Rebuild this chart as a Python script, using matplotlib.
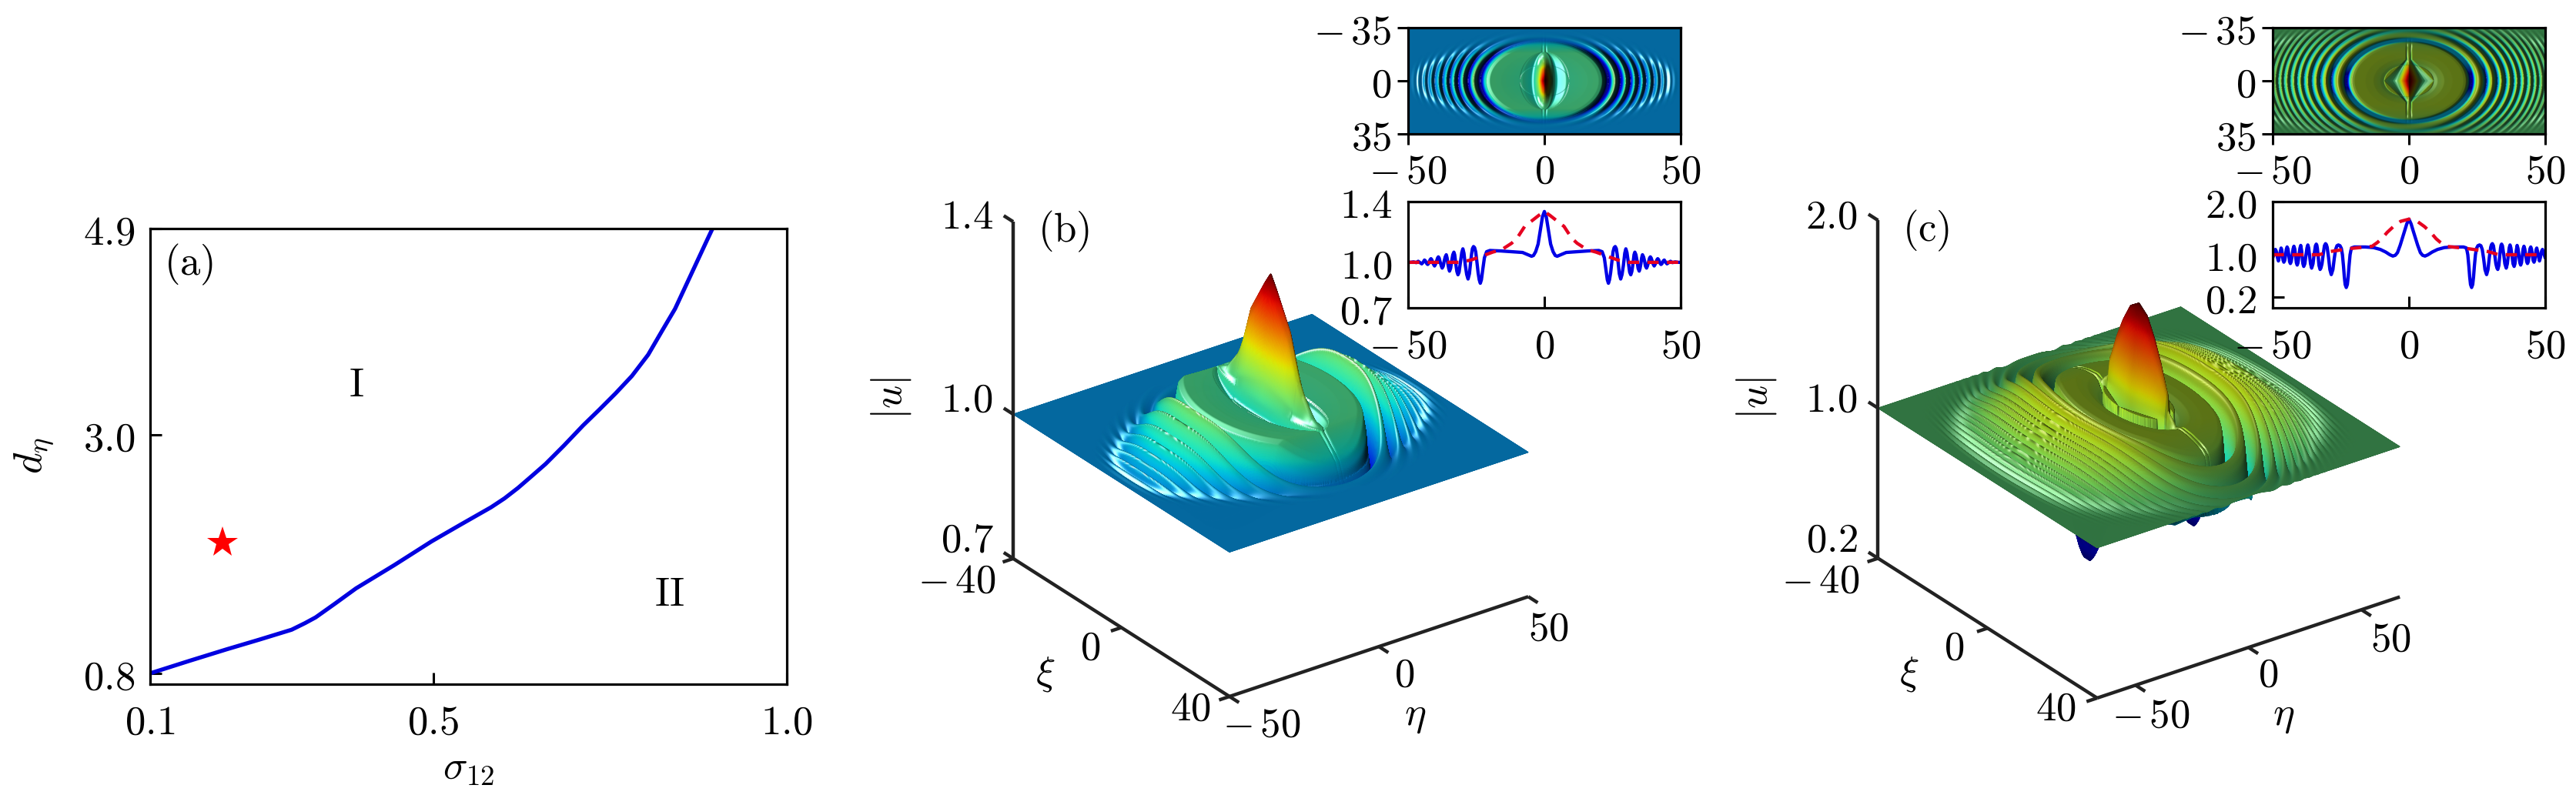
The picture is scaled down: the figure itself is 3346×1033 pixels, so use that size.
import numpy as np
import matplotlib
matplotlib.use('Agg')
import matplotlib.pyplot as plt
from mpl_toolkits.mplot3d import proj3d

plt.rcParams['mathtext.fontset'] = 'cm'
plt.rcParams['font.family'] = ['DejaVu Sans']

W, H = 3346, 1033
FS = 38

# ---- panel (a) ----
sigma12 = [.100, .155, .208, .254, .300, .319, .334, .361, .391, .445, .498, .540, .582, .601, .620, .639, .659, .685, .712, .735, .758, .781, .804, .823, .842, .857, .872, .887, .900]
d_eta = [.800, .914, 1.021, 1.110, 1.202, 1.263, 1.316, 1.441, 1.583, 1.797, 2.017, 2.175, 2.331, 2.413, 2.509, 2.616, 2.730, 2.900, 3.085, 3.231, 3.381, 3.541, 3.737, 3.950, 4.160, 4.370, 4.580, 4.790, 4.970]
star_sigma, star_d = 0.202, 2.003

# ---- panel (b): profile along eta at xi=0 (solid) and along xi at eta=0 (dashed) ----
b_profile = [(0, 1.335), (.7, 1.30), (1.5, 1.21), (2.3, 1.12), (3.2, 1.07), (4.0, 1.045), (4.7, 1.04), (6, 1.05), (8, 1.065),
             (12, 1.07), (16, 1.075), (20, 1.078), (21.2, 1.07), (22, 1.03), (22.7, .94), (23.1, .885), (23.5, .862), (23.9, .885),
             (24.3, .93), (24.8, 1.01), (25.2, 1.07), (25.6, 1.097), (26, 1.104), (26.4, 1.09), (26.7, 1.055), (27, 1.01), (27.5, .925),
             (28, .89), (28.5, .92), (29, .98), (29.5, 1.06), (29.9, 1.089), (30.3, 1.065), (30.8, 1.0), (31.3, .935), (31.7, .918),
             (32.1, .94), (32.5, .99), (32.9, 1.05), (33.2, 1.067), (33.6, 1.05), (34, 1.01), (34.4, .96), (34.8, .942), (35.1, .96),
             (35.4, .99), (35.7, 1.03), (36, 1.05), (36.4, 1.035), (36.8, 1.005), (37.1, .975), (37.5, .962), (37.8, .975), (38.2, 1.0),
             (38.6, 1.028), (38.9, 1.036), (39.2, 1.028), (39.6, 1.005), (40, .985), (40.3, .976), (40.6, .985), (41, 1.0), (41.3, 1.017),
             (41.6, 1.024), (41.9, 1.018), (42.2, 1.005), (42.5, .992), (42.8, .986), (43.1, .99), (43.4, 1.0), (43.7, 1.011), (44, 1.015),
             (44.5, 1.0), (45, .99), (45.7, .999), (46.3, 1.007), (47, .998), (48, 1.003), (49, 1.0), (50, 1.0)]
b_xi = [0, 2, 4.5, 7.2, 10, 12, 15.6, 19, 23, 27, 31, 40, 50]
b_red = [1.335, 1.31, 1.275, 1.237, 1.16, 1.126, 1.084, 1.067, 1.04, 1.015, 1.0, 1.0, 1.0]

# ---- panel (c) ----
c_profile = [(0, 1.67), (.8, 1.58), (1.5, 1.46), (2.3, 1.33), (3.2, 1.18), (4.2, 1.04), (5.0, .99), (5.9, .975), (7, 1.0), (8.5, 1.05),
             (10.5, 1.10), (13, 1.135), (16, 1.146), (20, 1.146), (21, 1.13), (21.3, 1.08), (21.6, 1.0), (22, .78), (22.3, .58), (22.6, .44),
             (23, .383), (23.4, .44), (23.7, .58), (24, .78), (24.4, 1.0), (24.8, 1.12), (25.3, 1.17), (25.9, 1.184), (26.4, 1.17), (26.9, 1.1),
             (27.4, .93), (27.9, .72), (28.5, .626), (29, .72), (29.5, .95), (30, 1.14), (30.3, 1.19), (30.6, 1.209), (31, 1.17), (31.4, 1.03),
             (31.9, .83), (32.3, .75), (32.6, .723), (33, .8), (33.3, .97), (33.6, 1.12), (33.8, 1.18), (34, 1.2), (34.3, 1.17), (34.8, 1.0),
             (35.2, .83), (35.7, .748), (36.1, .83), (36.5, 1.0), (36.8, 1.13), (37.1, 1.184), (37.4, 1.13), (37.9, .95), (38.2, .83), (38.6, .78),
             (38.9, .83), (39.2, .98), (39.4, 1.08), (39.7, 1.175), (40, 1.12), (40.4, .97), (40.7, .85), (41, .806), (41.3, .85), (41.6, .98),
             (41.9, 1.11), (42.2, 1.16), (42.5, 1.11), (42.9, .97), (43.2, .87), (43.5, .835), (43.8, .87), (44.1, 1.0), (44.4, 1.11), (44.7, 1.146),
             (45, 1.1), (45.3, .98), (45.6, .89), (45.9, .86), (46.2, .9), (46.4, 1.0), (46.7, 1.1), (46.9, 1.126), (47.2, 1.06), (47.5, .97),
             (47.9, .883), (48.2, .94), (48.4, 1.0), (48.7, 1.07), (49, 1.1), (49.5, 1.02), (50, .94), (51, 1.08), (52, .92), (53, 1.07), (54, .94),
             (55, 1.05), (56, .96), (57, 1.04), (58, .97), (59, 1.03), (60, .98), (61, 1.02), (62, .99), (63, 1.01), (64, 1.0), (67, 1.0)]
c_xi = [0, 3, 5.7, 8, 10, 11.6, 13.5, 17, 21, 25, 29, 33, 40, 50]
c_red = [1.67, 1.63, 1.53, 1.42, 1.30, 1.23, 1.16, 1.14, 1.12, 1.09, 1.06, 1.0, 1.0, 1.0]

ticks_eta = [-50, 0, 50]
ticks_xi = [-40, 0, 40]
ticks_map = [-35, 0, 35]

b_eta, b_blue = zip(*b_profile)
c_eta, c_blue = zip(*c_profile)


def mirror(x, y):
    x, y = np.asarray(x, float), np.asarray(y, float)
    return np.r_[-x[::-1], x[1:]], np.r_[y[::-1], y[1:]]


def build_field(eta_t, blue_t, xi_t, red_t, elim, a, s0, cut, plateau, w0, w1, pw, lens, floor, n_eta, n_xi):
    eta = np.linspace(-elim, elim, n_eta)
    xi = np.linspace(-40, 40, n_xi)
    E, X = np.meshgrid(eta, xi)
    sg = np.arange(0, 90, .02)
    Pf = np.interp(sg, eta_t, blue_t, right=1.0)
    ker = np.ones(13) / 13
    Pf = np.convolve(np.r_[np.full(6, Pf[0]), Pf, np.full(6, 1.0)], ker, 'valid')
    s = np.sqrt(E**2 + (a * X)**2)
    base = np.where(s < cut, plateau, np.interp(s, sg, Pf))
    red = np.interp(np.abs(X), xi_t, red_t)
    hf = np.clip((red - 1) / (plateau - 1), 0, 1)
    wd = np.maximum(w0 + (s - 24) * (w1 - w0) / 24, 4)
    env = np.where(s < s0, hf, np.exp(-(np.abs(X) / wd)**pw))
    u = 1 + (base - 1) * env
    fl = floor[0] + (floor[1] - floor[0]) * (1 - np.exp(-(X / floor[2])**2))
    u = np.maximum(u, fl)
    g = np.clip((red - plateau) / (red_t[0] - plateau), 0, 1)
    g2 = np.exp(-(X / 19)**4)
    wx = np.maximum(lens(np.abs(X)), .12)
    tt = np.interp(np.abs(E) / wx, sg, Pf) - plateau
    tt = np.where(np.abs(E) / wx < cut, tt, 0)
    u = u + np.where(tt > 0, tt * g, tt * g2)
    return eta, xi, E, X, u


def shade(u, eta, xi, k, ka, kd, ks, Lv):
    umin, umax = u.min(), u.max()
    t = np.clip((u - umin) / (umax - umin), 0, 1)
    rgb = matplotlib.colormaps['jet'](t)[..., :3]
    gy, gx = np.gradient(u, xi, eta)
    nx, ny, nz = -k * gx, -k * gy, np.ones_like(u)
    nn = np.sqrt(nx**2 + ny**2 + nz**2)
    nx, ny, nz = nx / nn, ny / nn, nz / nn
    Hv = np.array([-.2, 0, .98])
    diff = np.clip(nx * Lv[0] + nz * Lv[1], 0, 1)
    spec = np.clip(nx * Hv[0] + ny * Hv[1] + nz * Hv[2], 0, 1)**200
    spec = spec * np.clip((.75 - t) / .15, 0, 1)
    f = np.maximum(ka + kd * diff, .75 * np.clip((.12 - t) / .06, 0, 1))
    out = rgb * f[..., None] + ks * spec[..., None]
    return np.clip(out, 0, 1)


fig = plt.figure(figsize=(W / 100, H / 100), dpi=100)


def box(x0, y0, x1, y1):
    return [x0 / W, 1 - y1 / H, (x1 - x0) / W, (y1 - y0) / H]


def T(x, y, s, **kw):
    fig.text(x / W, 1 - y / H, s, ha=kw.pop('ha', 'center'), va='center', fontsize=kw.pop('fontsize', FS), zorder=20, **kw)


def m(v):
    return r'$-\,%d$' % -v if v < 0 else r'$%d$' % v


# ---- panel (a) ----
ax = fig.add_axes(box(195, 297, 1022, 889))
ax.plot(sigma12, d_eta, color='#0000e0', lw=3.8, solid_joinstyle='round')
ax.plot([star_sigma], [star_d], marker='*', color='red', ms=30, mew=0, ls='none')
ax.set_xlim(0.1, 1.0)
ax.set_ylim(0.7, 4.9)
ax.set_xticks([0.1, 0.5, 1.0], [r'$0.1$', r'$0.5$', r'$1.0$'])
ax.set_yticks([0.8, 3.0, 4.9], [r'$0.8$', r'$3.0$', r'$4.9$'])
ax.tick_params(direction='in', length=11, width=2.2, labelsize=FS)
ax.tick_params(axis='x', pad=17)
ax.tick_params(axis='y', pad=14)
for sp in ax.spines.values():
    sp.set_linewidth(2.3)
ax.text(.391, 3.46, r'$\mathrm{I}$', fontsize=FS, ha='center', va='center')
ax.text(.834, 1.53, r'$\mathrm{II}$', fontsize=FS, ha='center', va='center')
ax.text(.155, 4.57, r'$\mathrm{(a)}$', fontsize=FS, ha='center', va='center')
T(45, 592, r'$d_{\eta}$', rotation=90)
T(609, 997, r'$\sigma_{12}$')


def panel3d(eta, xi, E, X, u, rgb, elim, zlim, ztl, etaticks, corner, end, zasp):
    ax = fig.add_axes([.3, .3, .3, .3 * W / H], projection='3d', computed_zorder=False, zorder=2)
    ax.set_proj_type('ortho')
    ax.view_init(elev=27.5, azim=-125.9)
    ax.set_box_aspect((1, 1, zasp))
    ax.set_xlim(-elim, elim)
    ax.set_ylim(40, -40)
    ax.set_zlim(*zlim)
    ax.set_axis_off()
    ax.patch.set_visible(False)

    def px():
        ax.apply_aspect()
        M = ax.get_proj()
        pts = []
        for e in (-elim, elim):
            a_, b_, _ = proj3d.proj_transform(e, 40, zlim[0], M)
            pts.append(ax.transData.transform((a_, b_)))
        return np.array(pts)
    p = px()
    tgt0 = np.array([corner[0], H - corner[1]], float)
    tgt1 = np.array([end[0], H - end[1]], float)
    sc = np.linalg.norm(tgt1 - tgt0) / np.linalg.norm(p[1] - p[0])
    side = .3 * W * sc
    ax.set_position([.1, .1, side / W, side / H])
    p = px()
    off = tgt0 - p[0]
    bb = ax.get_position(original=True)
    ax.set_position([bb.x0 + off[0] / W, bb.y0 + off[1] / H, bb.width, bb.height])
    ax.apply_aspect()

    # surface: projected through the 3D axes, drawn far to near on a pixel-scaled overlay
    M = ax.get_proj()
    sx, sy, _ = proj3d.proj_transform(E.ravel(), X.ravel(), u.ravel(), M)
    q = ax.transData.transform(np.c_[sx, sy]).reshape(E.shape + (2,))
    ov = fig.add_axes([0, 0, 1, 1], zorder=1)
    ov.set_xlim(0, W)
    ov.set_ylim(0, H)
    ov.set_axis_off()
    ov.pcolormesh(q[:, ::-1, 0], q[:, ::-1, 1], rgb[:, ::-1], shading='gouraud', antialiased=False)

    kw = dict(color='#222222', lw=3.2, zorder=3, solid_capstyle='butt')
    z0, z1 = zlim
    ax.plot([-elim, -elim], [-40, -40], [z0, z1], **kw)
    ax.plot([-elim, -elim], [-40, 40], [z0, z0], **kw)
    ax.plot([-elim, elim], [40, 40], [z0, z0], **kw)
    for z in ztl:
        ax.plot([-elim, -elim], [-40, -43.5], [z, z], **kw)
    for x in ticks_xi:
        ax.plot([-elim, -elim - elim * .07], [x, x], [z0, z0], **kw)
    for e in etaticks:
        ax.plot([e, e], [40, 43.5], [z0, z0], **kw)
    return ax


def insets(x0, x1, eta, xi, rgb, eta_t, blue_t, xi_t, red_t, ylim, yt):
    a1 = fig.add_axes(box(x0, 36, x1, 174), zorder=5)
    a1.imshow(rgb, extent=[eta[0], eta[-1], xi[-1], xi[0]], aspect='auto', interpolation='bilinear')
    a1.set_xlim(-50, 50)
    a1.set_ylim(35, -35)
    a1.set_xticks(ticks_eta, [m(v) for v in ticks_eta])
    a1.set_yticks(ticks_map, [m(v) for v in ticks_map])
    a1.tick_params(direction='out', length=10, width=2.2, labelsize=FS, pad=6)
    a2 = fig.add_axes(box(x0, 262, x1, 400), zorder=5)
    a2.plot(*mirror(eta_t, blue_t), color='#0000e6', lw=3.1, solid_joinstyle='round')
    a2.plot(*mirror(xi_t, red_t), color='#e60020', lw=3.1, ls=(0, (3.4, 2.5)))
    a2.set_xlim(-50, 50)
    a2.set_ylim(*ylim)
    a2.set_xticks(ticks_eta, [m(v) for v in ticks_eta])
    a2.set_yticks(yt, [r'$%.1f$' % v for v in yt])
    a2.tick_params(direction='in', length=11, width=2.2, labelsize=FS)
    a2.tick_params(axis='x', pad=17)
    a2.tick_params(axis='y', pad=15)
    for a in (a1, a2):
        for sp in a.spines.values():
            sp.set_linewidth(2.3)


# ---- panel (b) ----
def lens_b(x):
    return np.sqrt(np.clip(1 - (x / 19)**2, 0, 1))


eta, xi, E, X, u = build_field(b_eta, b_blue, b_xi, b_red, 50, .86, 22.4, 9, 1.07, 20, 9, 3, lens_b, (.862, .9, 14), 800, 480)
rgb = shade(u, eta, xi, 15, .14, .78, .9, (-.8, .6))
panel3d(eta, xi, E, X, u, rgb, 50, (.7, 1.4), [.7, 1.0, 1.4], [-50, 0, 50], (1597, 905), (1985, 775), 1.03)
for (x, y, s) in [(1256, 282, r'$1.4$'), (1256, 520, r'$1.0$'), (1256, 702, r'$0.7$'), (1243, 755, m(-40)),
                  (1416, 842, m(0)), (1546, 921, m(40)), (1639, 942, m(-50)), (1824, 877, m(0)), (2011, 817, m(50)),
                  (1382, 301, r'$\mathrm{(b)}$'), (1358, 875, r'$\xi$'), (1838, 929, r'$\eta$')]:
    T(x, y, s)
T(1157, 517, r'$|u|$', rotation=90)
insets(1829, 2183, eta, xi, rgb, b_eta, b_blue, b_xi, b_red, (.7, 1.4), [.7, 1.0, 1.4])


# ---- panel (c) ----
def lens_c(x):
    return np.clip(1 - x / 16, 0, 1)


eta, xi, E, X, u = build_field(c_eta, c_blue, c_xi, c_red, 67, .85, 21.6, 9, 1.146, 32, 26, 4, lens_c, (.383, .8, 7), 1100, 480)
rgb = shade(u, eta, xi, 4, .22, .72, .5, (-.95, .31))
panel3d(eta, xi, E, X, u, rgb, 67, (.2, 2.0), [.2, 1.0, 2.0], [-50, 0, 50], (2724, 907), (3117, 775), 1.02)
for (x, y, s) in [(2379, 282, r'$2.0$'), (2379, 520, r'$1.0$'), (2379, 702, r'$0.2$'), (2365, 755, m(-40)),
                  (2538, 842, m(0)), (2670, 921, m(40)), (2794, 930, m(-50)), (2946, 877, m(0)), (3105, 831, m(50)),
                  (2502, 300, r'$\mathrm{(c)}$'), (2480, 875, r'$\xi$'), (2966, 929, r'$\eta$')]:
    T(x, y, s)
T(2281, 517, r'$|u|$', rotation=90)
insets(2952, 3306, eta, xi, rgb, c_eta, c_blue, c_xi, c_red, (0, 2.0), [.2, 1.0, 2.0])

fig.savefig('out.png', dpi=100)
